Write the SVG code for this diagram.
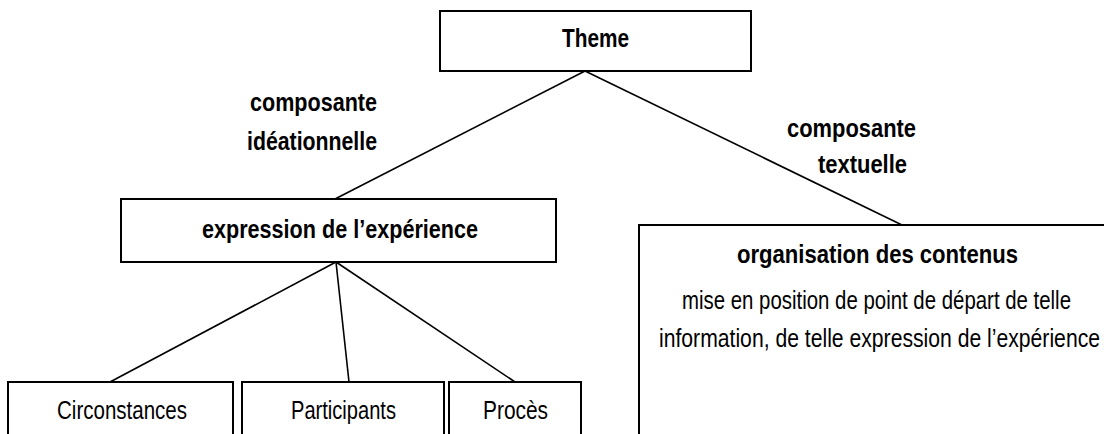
<svg xmlns="http://www.w3.org/2000/svg" width="1104" height="434" viewBox="0 0 1104 434">
<style>
.box{fill:#fff;stroke:#000;stroke-width:2}
.edge{stroke:#000;stroke-width:1.6;fill:none}
text{font-family:"Liberation Sans",Arial,sans-serif;font-size:26px;fill:#000}
.b{font-weight:bold}
</style>
<rect width="1104" height="434" fill="#fff"/>
<g id="connectors">
<line class="edge" x1="585" y1="71" x2="335" y2="199"/>
<line class="edge" x1="585" y1="71" x2="902" y2="225"/>
<line class="edge" x1="336" y1="262" x2="110" y2="382"/>
<line class="edge" x1="336" y1="262" x2="349" y2="382"/>
<line class="edge" x1="336" y1="262" x2="515" y2="382"/>
<text class="b" x="250" y="111" textLength="127" lengthAdjust="spacingAndGlyphs">composante</text>
<text class="b" x="247" y="150" textLength="130" lengthAdjust="spacingAndGlyphs">idéationnelle</text>
<text class="b" x="787" y="137" textLength="129" lengthAdjust="spacingAndGlyphs">composante</text>
<text class="b" x="818" y="173" textLength="89" lengthAdjust="spacingAndGlyphs">textuelle</text>
</g>
<g id="theme">
<rect class="box" x="440" y="11" width="311" height="60"/>
<text class="b" x="562" y="47" textLength="67" lengthAdjust="spacingAndGlyphs">Theme</text>
</g>
<g id="experience">
<rect class="box" x="121" y="199" width="435" height="63"/>
<text class="b" x="202" y="238" textLength="276" lengthAdjust="spacingAndGlyphs">expression de l’expérience</text>
</g>
<g id="circonstances">
<rect class="box" x="8" y="382" width="225" height="70"/>
<text x="57" y="419" textLength="130" lengthAdjust="spacingAndGlyphs">Circonstances</text>
</g>
<g id="participants">
<rect class="box" x="242" y="382" width="202" height="70"/>
<text x="291" y="419" textLength="105" lengthAdjust="spacingAndGlyphs">Participants</text>
</g>
<g id="proces">
<rect class="box" x="449" y="382" width="132" height="70"/>
<text x="483" y="419" textLength="65" lengthAdjust="spacingAndGlyphs">Procès</text>
</g>
<g id="organisation">
<rect class="box" x="639" y="225" width="480" height="230"/>
<text class="b" x="737" y="263" textLength="281" lengthAdjust="spacingAndGlyphs">organisation des contenus</text>
<text x="682" y="309" textLength="389" lengthAdjust="spacingAndGlyphs">mise en position de point de départ de telle</text>
<text x="659" y="347" textLength="441" lengthAdjust="spacingAndGlyphs">information, de telle expression de l’expérience</text>
</g>
</svg>
